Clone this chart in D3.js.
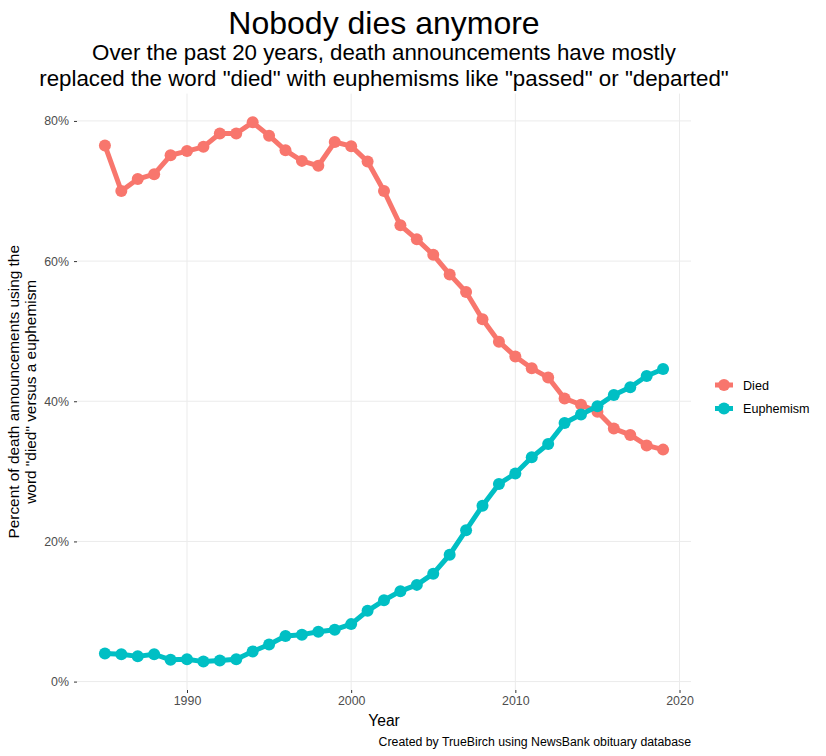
<!DOCTYPE html>
<html>
<head>
<meta charset="utf-8">
<script src="https://cdn.jsdelivr.net/npm/d3@7"></script>
<style>
  html, body { margin: 0; padding: 0; background: #fff; }
  svg { display: block; font-family: "Liberation Sans", Arial, sans-serif; }
</style>
</head>
<body>
<svg id="chart" width="826" height="756"></svg>
<script>
const years = [1985,1986,1987,1988,1989,1990,1991,1992,1993,1994,1995,1996,1997,1998,1999,2000,2001,2002,2003,2004,2005,2006,2007,2008,2009,2010,2011,2012,2013,2014,2015,2016,2017,2018,2019];
const died = [76.5,70.0,71.7,72.4,75.1,75.7,76.3,78.2,78.2,79.8,77.9,75.8,74.3,73.6,77.0,76.4,74.2,70.0,65.1,63.1,60.9,58.1,55.6,51.7,48.5,46.4,44.7,43.4,40.4,39.5,38.5,36.1,35.2,33.7,33.1];
const euphemism = [4.0,3.9,3.6,3.9,3.1,3.2,2.85,3.0,3.2,4.3,5.3,6.5,6.7,7.1,7.4,8.2,10.1,11.6,12.9,13.8,15.4,18.1,21.6,25.1,28.2,29.7,32.0,33.9,36.9,38.1,39.3,40.9,42.0,43.6,44.6];
const seriesNames = ["Died", "Euphemism"];
const seriesColors = ["#F8766D", "#00BFC4"];
const xTicks = [1990, 2000, 2010, 2020];
const yTicks = [0, 20, 40, 60, 80];

const titleText = "Nobody dies anymore";
const subtitleLines = ["Over the past 20 years, death announcements have mostly", "replaced the word \"died\" with euphemisms like \"passed\" or \"departed\""];
const yTitleLines = ["Percent of death announcements using the", "word \"died\" versus a euphemism"];
const xTitle = "Year";
const caption = "Created by TrueBirch using NewsBank obituary database";

const svg = d3.select("#chart");
const panel = { left: 77, right: 691, top: 93.6, bottom: 690 };

const x = d3.scaleLinear().domain([1983.3, 2020.7]).range([panel.left, panel.right]);
const y = d3.scaleLinear().domain([-1.2, 83.9]).range([panel.bottom, panel.top]);

// gridlines
const grid = svg.append("g");
grid.selectAll("line.gx").data(xTicks).enter().append("line")
  .attr("x1", d => x(d)).attr("x2", d => x(d))
  .attr("y1", panel.top).attr("y2", panel.bottom)
  .attr("stroke", "#ebebeb").attr("stroke-width", 1);
grid.selectAll("line.gy").data(yTicks).enter().append("line")
  .attr("x1", panel.left).attr("x2", panel.right)
  .attr("y1", d => y(d)).attr("y2", d => y(d))
  .attr("stroke", "#ebebeb").attr("stroke-width", 1);

const tickFont = "12.4px";

// axes
const xAxis = d3.axisBottom(x).tickValues(xTicks).tickFormat(d3.format("d")).tickSize(3).tickPadding(3);
const gx = svg.append("g").attr("transform", `translate(0,${panel.bottom})`).call(xAxis);
gx.select(".domain").remove();
gx.selectAll(".tick line").attr("stroke", "#333333");
gx.selectAll(".tick text").attr("fill", "#4d4d4d").style("font-size", tickFont).style("font-family", "'Liberation Sans', Arial, sans-serif");

const yAxis = d3.axisLeft(y).tickValues(yTicks).tickFormat(d => d + "%").tickSize(3).tickPadding(5);
const gy = svg.append("g").attr("transform", `translate(${panel.left},0)`).call(yAxis);
gy.select(".domain").remove();
gy.selectAll(".tick line").attr("stroke", "#333333");
gy.selectAll(".tick text").attr("fill", "#4d4d4d").style("font-size", tickFont).style("font-family", "'Liberation Sans', Arial, sans-serif");

// series
const series = [died, euphemism];
const line = d3.line().x((d, i) => x(years[i])).y(d => y(d));
series.forEach((vals, si) => {
  svg.append("path").datum(vals)
    .attr("d", line)
    .attr("fill", "none")
    .attr("stroke", seriesColors[si])
    .attr("stroke-width", 5)
    .attr("stroke-linejoin", "round");
  svg.append("g").selectAll("circle").data(vals).enter().append("circle")
    .attr("cx", (d, i) => x(years[i]))
    .attr("cy", d => y(d))
    .attr("r", 6)
    .attr("fill", seriesColors[si]);
});

// titles
const cx = (panel.left + panel.right) / 2;
svg.append("text").attr("x", cx).attr("y", 34).attr("text-anchor", "middle")
  .style("font-size", "32px").attr("fill", "#000").text(titleText);
svg.append("text").attr("x", cx).attr("y", 60).attr("text-anchor", "middle")
  .style("font-size", "22.3px").attr("fill", "#000")
  .selectAll("tspan").data(subtitleLines).enter().append("tspan")
  .attr("x", cx).attr("dy", (d, i) => i === 0 ? 0 : 26).text(d => d);

// axis titles
svg.append("text").attr("x", cx).attr("y", 726).attr("text-anchor", "middle")
  .style("font-size", "15.6px").attr("fill", "#000").text(xTitle);
const ycy = (panel.top + panel.bottom) / 2;
const yt = svg.append("text").attr("transform", `translate(19,${ycy}) rotate(-90)`)
  .attr("text-anchor", "middle").style("font-size", "15.4px").attr("fill", "#000");
yt.selectAll("tspan").data(yTitleLines).enter().append("tspan")
  .attr("x", 0).attr("dy", (d, i) => i === 0 ? 0 : 17).text(d => d);

// caption
svg.append("text").attr("x", panel.right).attr("y", 745.5).attr("text-anchor", "end")
  .style("font-size", "12.3px").attr("fill", "#000").text(caption);

// legend
const lg = svg.append("g");
const legendY = [385, 408.5];
seriesNames.forEach((name, i) => {
  lg.append("line").attr("x1", 715).attr("x2", 733).attr("y1", legendY[i]).attr("y2", legendY[i])
    .attr("stroke", seriesColors[i]).attr("stroke-width", 5);
  lg.append("circle").attr("cx", 724).attr("cy", legendY[i]).attr("r", 6).attr("fill", seriesColors[i]);
  lg.append("text").attr("x", 743).attr("y", legendY[i] + 4.5).style("font-size", "12.6px")
    .attr("fill", "#000").text(name);
});
</script>
</body>
</html>
